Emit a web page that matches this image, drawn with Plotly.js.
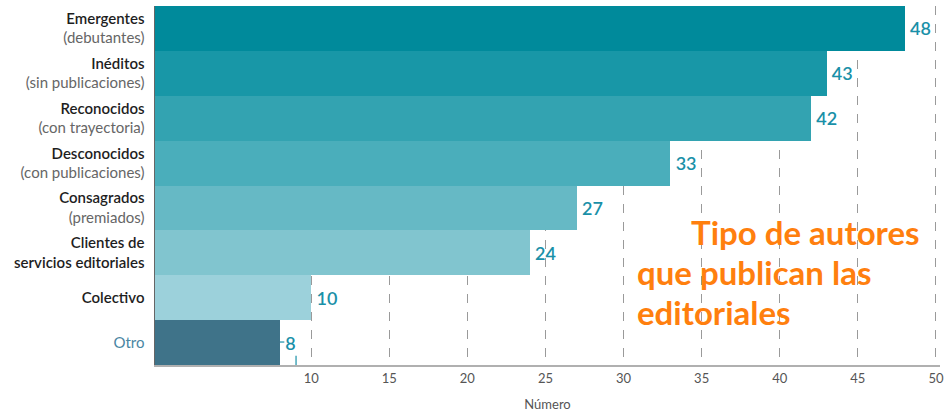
<!DOCTYPE html>
<html><head><meta charset="utf-8">
<script src="https://cdn.plot.ly/plotly-3.0.1.min.js"></script>
<style>body{margin:0;background:#fff}#c{width:948px;height:412px}</style>
</head><body><div id="c"></div>
<script>
var mainLabels = ["Emergentes","Inéditos","Reconocidos","Desconocidos","Consagrados","Clientes de","Colectivo","Otro"];
var subLabels = ["(debutantes)","(sin publicaciones)","(con trayectoria)","(con publicaciones)","(premiados)","servicios editoriales","",""];
var values = [48,43,42,33,27,24,10,8];
var barColors = ["#008a9b","#1897a7","#33a3b1","#4aaebb","#66b9c5","#81c5cf","#9cd1db","#3f7389"];
var tickValues = [10,15,20,25,30,35,40,45,50];
var titleLines = ["Tipo de autores","que publican las","editoriales"];

var B = '<span style="font-weight:600;color:#1e1e1e">';
var cats = mainLabels.map(function(m,i){
  var s = subLabels[i];
  if (i === 5) return B+m+'</span><br>'+B+s+'</span>';
  if (i === 7) return '<span style="color:#4a86a3">'+m+'</span>';
  if (!s) return B+m+'</span>';
  return B+m+'</span><br><span style="color:#666">'+s+'</span>';
});

var trace = {
  type:'bar', orientation:'h', y:cats, x:values,
  marker:{color:barColors, line:{width:0}},
  text:values.map(function(v){return '\u2009'+v;}), textposition:'outside', cliponaxis:false,
  textfont:{family:'Lato, sans-serif', size:18, color:'#1990a8', weight:600},
  hoverinfo:'none'
};

var layout = {
  width:948, height:412,
  margin:{l:155, r:8, t:6, b:47},
  paper_bgcolor:'#fff', plot_bgcolor:'#fff',
  font:{family:'Lato, sans-serif'},
  showlegend:false,
  bargap:0,
  xaxis:{range:[0,50.26], tickvals:tickValues, ticktext:tickValues.map(String),
    showgrid:true, gridcolor:'#9a9a9a', griddash:'dash', gridwidth:1,
    zeroline:false, showline:true, linecolor:'#b0b0b0', linewidth:2,
    ticks:'', tickfont:{size:13, color:'#555'},
    title:{text:'Número', font:{size:13, color:'#555'}, standoff:16}},
  yaxis:{autorange:'reversed', showgrid:false, zeroline:false,
    showline:true, linecolor:'#666', linewidth:1.5,
    ticks:'', ticklabelstandoff:6, tickfont:{size:15, color:'#222'}},
  shapes:[
    {type:'rect', layer:'between', xref:'x', yref:'paper', x0:29.6, x1:49.6, y0:0.1, y1:0.44,
     fillcolor:'#fff', line:{width:0}},
    {type:'line', layer:'above', xref:'x', yref:'paper', x0:8.0, x1:8.28, y0:0.064, y1:0.064,
     line:{color:'#1990a8', width:1.2}},
    {type:'line', layer:'above', xref:'x', yref:'paper', x0:9.03, x1:9.03, y0:0.0, y1:0.026,
     line:{color:'#1990a8', width:1.2}}
  ],
  annotations:[
    {xref:'x', yref:'paper', x:34.2, y:0.370, xanchor:'left', yanchor:'middle', showarrow:false,
     text:'<b>'+titleLines[0]+'</b>', font:{size:33, color:'#ff7f0e'}},
    {xref:'x', yref:'paper', x:30.75, y:0.259, xanchor:'left', yanchor:'middle', showarrow:false,
     text:'<b>'+titleLines[1]+'</b>', font:{size:33, color:'#ff7f0e'}},
    {xref:'x', yref:'paper', x:30.75, y:0.148, xanchor:'left', yanchor:'middle', showarrow:false,
     text:'<b>'+titleLines[2]+'</b>', font:{size:33, color:'#ff7f0e'}}
  ]
};
Plotly.newPlot('c',[trace],layout,{displayModeBar:false,staticPlot:true});
</script>
</body></html>
